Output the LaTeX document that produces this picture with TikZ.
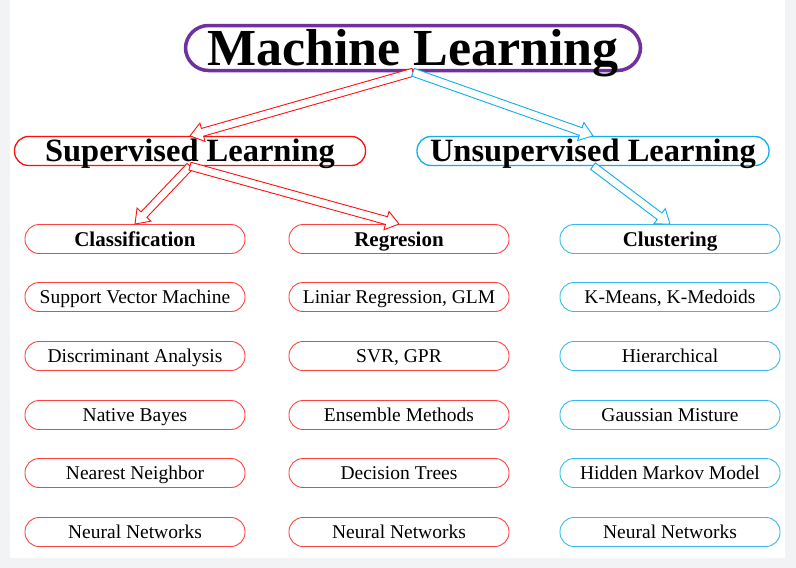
\documentclass[tikz,border=0pt]{standalone}
\usepackage{fontspec}
\setmainfont{Liberation Serif}
\usetikzlibrary{calc}

\definecolor{mlpurple}{HTML}{7030A0}
\definecolor{suprd}{HTML}{FF1010}
\definecolor{unscyan}{HTML}{10AEEE}
\definecolor{pagegray}{HTML}{F1F3F4}

% hollow block arrow: colour, from, to
\newcommand\hollowarrow[3]{%
  \coordinate (hb) at ($(#3)!13pt!(#2)$);
  \draw[#1, fill=white, line width=0.9pt, line join=miter]
    ($(#2)!4pt!90:(#3)$) -- ($(hb)!4pt!90:(#3)$) -- ($(hb)!9.5pt!90:(#3)$)
    -- (#3) -- ($(hb)!9.5pt!-90:(#3)$) -- ($(hb)!4pt!-90:(#3)$)
    -- ($(#2)!4pt!-90:(#3)$) -- cycle;}

\begin{document}
\begin{tikzpicture}[x=1pt, y=-1pt,
  box/.style={draw, rounded corners=14pt, line width=0.9pt, minimum width=220pt,
    minimum height=29pt, inner sep=0pt, text height=13pt, text depth=0pt,
    font=\fontsize{19.5}{20}\selectfont},
  redbox/.style={box, draw=suprd!80},
  bluebox/.style={box, draw=unscyan!85},
  head/.style={font=\fontsize{21}{22}\selectfont\bfseries, text height=14pt},
  branch/.style={draw, rounded corners=14pt, line width=1.3pt, minimum height=29pt,
    inner sep=0pt, text height=20pt, text depth=0pt, font=\fontsize{32.5}{34}\selectfont\bfseries}]
  % page
  \fill[pagegray] (0,0) rectangle (796,568);
  \fill[white] (10,0) rectangle (785,558);
  \useasboundingbox (0,0) rectangle (796,568);
  % top
  \node[draw=mlpurple, line width=3.5pt, rounded corners=23pt, minimum width=455pt,
    minimum height=45pt, inner sep=0pt, text height=34pt, text depth=0pt,
    font=\fontsize{52}{54}\selectfont\bfseries] (ml) at (413,48) {Machine Learning};
  \node[branch, draw=suprd, minimum width=351pt] (sup) at (190,151) {Supervised Learning};
  \node[branch, draw=unscyan, minimum width=352pt] (uns) at (593,151) {Unsupervised Learning};
  % families
  \node[redbox, head] (cls) at (135,239) {Classification};
  \node[redbox, head] (reg) at (399,239) {Regresion};
  \node[bluebox, head] (clu) at (670,239) {Clustering};
  % methods
  \foreach \y/\s [count=\i] in {297/Support Vector Machine, 356/Discriminant Analysis,
      415/Native Bayes, 473/Nearest Neighbor, 532/Neural Networks}{
    \node[redbox] (cls\i) at (135,\y) {\s};}
  \foreach \y/\s [count=\i] in {297/{Liniar Regression, GLM}, 356/{SVR, GPR},
      415/Ensemble Methods, 473/Decision Trees, 532/Neural Networks}{
    \node[redbox] (reg\i) at (399,\y) {\s};}
  \foreach \y/\s [count=\i] in {297/{K-Means, K-Medoids}, 356/Hierarchical,
      415/Gaussian Misture, 473/Hidden Markov Model, 532/Neural Networks}{
    \node[bluebox] (clu\i) at (670,\y) {\s};}
  % arrows
  \hollowarrow{suprd}{ml.south}{sup.north}
  \hollowarrow{unscyan}{ml.south}{uns.north}
  \hollowarrow{suprd}{sup.south}{cls.north}
  \hollowarrow{suprd}{sup.south}{reg.north}
  \hollowarrow{unscyan}{uns.south}{clu.north}
\end{tikzpicture}
\end{document}
